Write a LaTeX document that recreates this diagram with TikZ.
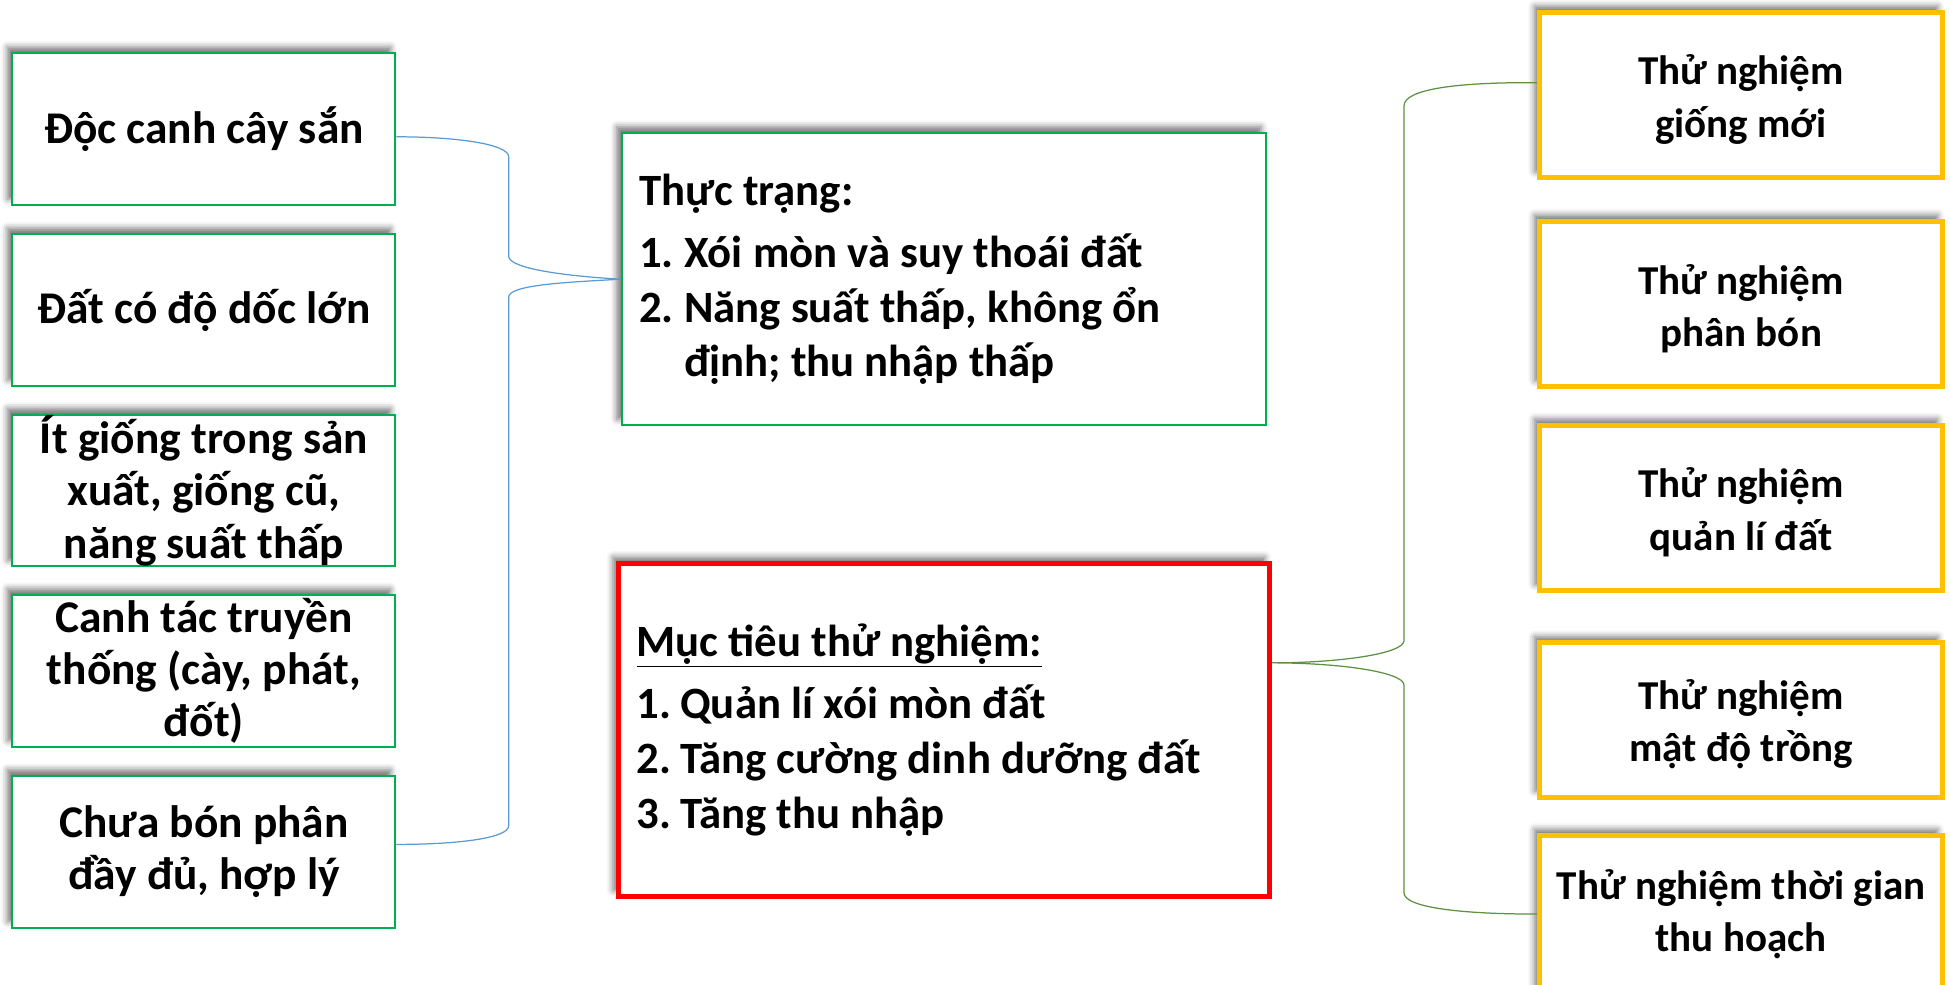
\documentclass[tikz,border=0pt]{standalone}
\usepackage{fontspec}
\setmainfont{Carlito}
\usetikzlibrary{shadows.blur}
\definecolor{gbox}{HTML}{00B050}
\definecolor{obox}{HTML}{FFC000}
\definecolor{redbox}{HTML}{FF0000}
\definecolor{bline}{HTML}{5B9BD5}
\definecolor{gline}{HTML}{5E9140}
\newcommand\topstrut{\rule{0pt}{31pt}}
\tikzset{
  base/.style={rectangle, fill=white, inner sep=0pt,
    blur shadow={shadow xshift=-4pt, shadow yshift=5pt, shadow blur radius=5pt, shadow opacity=55}},
  lbox/.style={base, draw=gbox, line width=1.6pt, minimum width=308pt, minimum height=122pt,
    align=center, font=\fontsize{36.5}{42}\selectfont\bfseries},
  rtbox/.style={base, draw=obox, line width=4pt, minimum width=324pt, minimum height=133pt,
    align=center, font=\fontsize{33}{42}\selectfont\bfseries},
  trbox/.style={base, draw=gbox, line width=1.6pt, minimum height=235pt, text width=490pt,
    inner xsep=14pt, align=flush left, font=\fontsize{36}{44}\selectfont\bfseries\frenchspacing,
    execute at begin node={\vspace*{6pt}}},
  mtbox/.style={base, draw=redbox, line width=4pt, minimum height=268pt, text width=494pt,
    inner xsep=15pt, align=flush left, font=\fontsize{36}{44}\selectfont\bfseries\frenchspacing,
    execute at begin node={\vspace*{6pt}}},
  bluebrace/.style={draw=bline, line width=1pt},
  greenbrace/.style={draw=gline, line width=1pt},
}
\begin{document}
\begin{tikzpicture}[x=1pt, y=-1pt]
\path[use as bounding box] (0,0) rectangle (1568,792);
\clip (0,0) rectangle (1568,792);

% left column
\node[lbox] (l1) at (164,104) {Độc canh cây sắn};
\node[lbox] (l2) at (164,249.5) {Đất có độ dốc lớn};
\node[lbox] (l3) at (164,394.5) {Ít giống trong sản\\xuất, giống cũ,\\năng suất thấp};
\node[lbox] (l4) at (164,539.5) {Canh tác truyền\\thống (cày, phát,\\đốt)};
\node[lbox] (l5) at (164,685) {Chưa bón phân\\đầy đủ, hợp lý};

% centre
\node[trbox] (tr) at (759,224.5) {Thực trạng:\\1. Xói mòn và suy thoái đất\\2. Năng suất thấp, không ổn\\\phantom{2. }định; thu nhập thấp};
\node[mtbox] (mt) at (759,587) {\underline{Mục tiêu thử nghiệm:}\\\makebox[35pt][l]{1.}Quản lí xói mòn đất\\\makebox[35pt][l]{2.}Tăng cường dinh dưỡng đất\\\makebox[35pt][l]{3.}Tăng thu nhập};

% right column
\node[rtbox] (r1) at (1400,76.5) {\topstrut Thử nghiệm\\giống mới};
\node[rtbox] (r2) at (1400,244.5) {\topstrut Thử nghiệm\\phân bón};
\node[rtbox] (r3) at (1400,408.5) {\topstrut Thử nghiệm\\quản lí đất};
\node[rtbox, minimum height=124pt] (r4) at (1400,579) {\topstrut Thử nghiệm\\mật độ trồng};
\node[rtbox, minimum height=126pt] (r5) at (1400,735) {Thử nghiệm thời gian\\thu hoạch};

% braces
\draw[bluebrace] ([yshift=-6pt]l1.east) .. controls (368,110) and (409,116) .. (409,126)
  -- (409,206) .. controls (409,216) and (455,222) .. (tr.west)
  .. controls (455,227) and (409,229) .. (409,239)
  -- (409,664) .. controls (409,674) and (368,679) .. ([yshift=6pt]l5.east);
\draw[greenbrace] ([yshift=10pt]r1.west) .. controls (1170,66) and (1129,72) .. (1129,85)
  -- (1129,515) .. controls (1129,526) and (1075,533) .. ([yshift=54pt]mt.east)
  .. controls (1075,533) and (1129,540) .. (1129,551)
  -- (1129,718) .. controls (1129,729) and (1170,735) .. (r5.west);
\end{tikzpicture}
\end{document}
